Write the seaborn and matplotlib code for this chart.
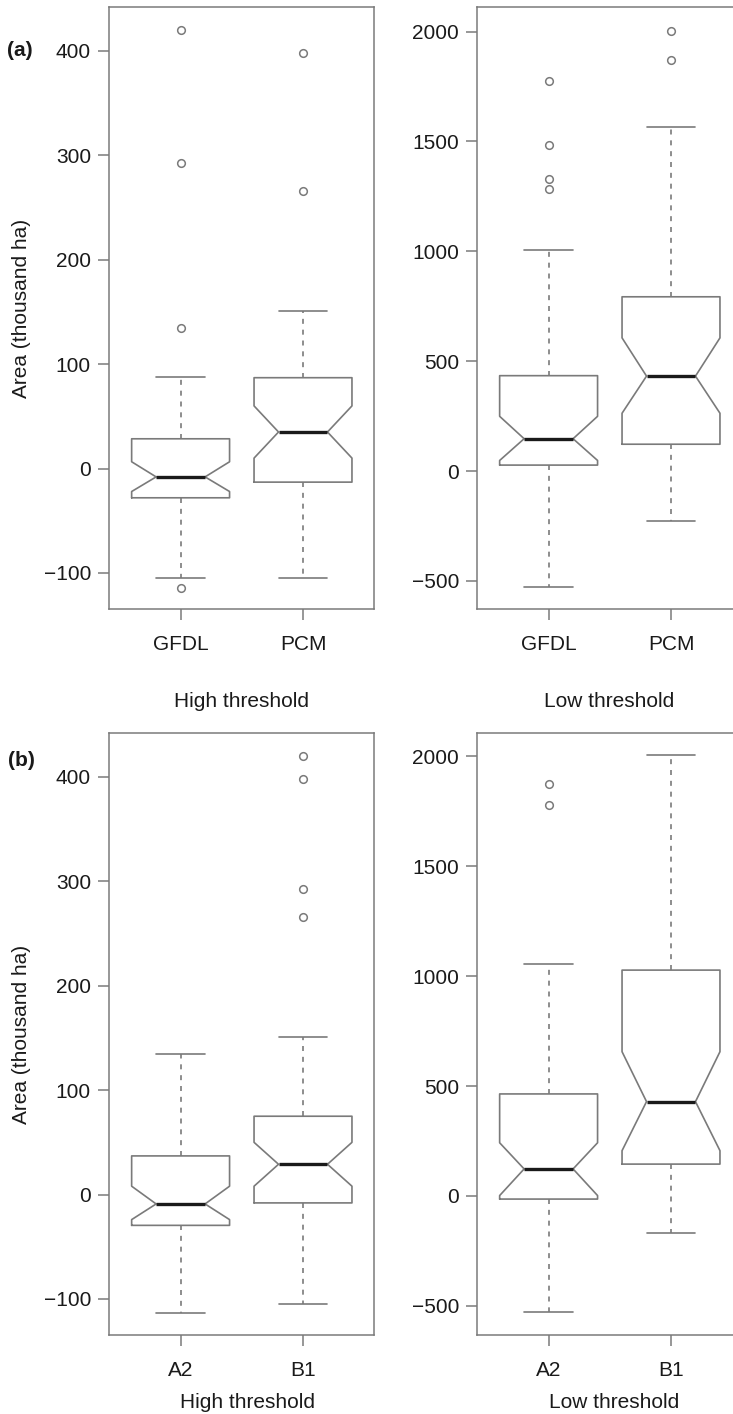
import numpy as np
import pandas as pd
import matplotlib
matplotlib.use("Agg")
import matplotlib.pyplot as plt
import seaborn as sns

# ---------------- data ----------------
models = ["GFDL", "PCM"]
scenarios = ["A2", "B1"]

# (a) high threshold, by model
a_high_lo = [-105, -105]
a_high_q1 = [-28, -13]
a_high_cilo = [-22, 10]
a_high_med = [-8, 35]
a_high_cihi = [6.5, 60]
a_high_q3 = [28.5, 87]
a_high_hi = [88, 151]
a_high_fliers = [[-114, 135, 293, 420], [266, 398]]

# (a) low threshold, by model
a_low_lo = [-528, -226]
a_low_q1 = [27, 122]
a_low_cilo = [48, 263]
a_low_med = [147, 432]
a_low_cihi = [249, 606]
a_low_q3 = [434, 793]
a_low_hi = [1005, 1565]
a_low_fliers = [[1285, 1331, 1482, 1777], [1872, 2005]]

# (b) high threshold, by scenario
b_high_lo = [-113, -105]
b_high_q1 = [-29.5, -8]
b_high_cilo = [-24, 8]
b_high_med = [-9, 29]
b_high_cihi = [8, 50]
b_high_q3 = [37, 75]
b_high_hi = [135, 151]
b_high_fliers = [[], [266, 293, 398, 420]]

# (b) low threshold, by scenario
b_low_lo = [-528, -170]
b_low_q1 = [-14, 145]
b_low_cilo = [2, 206]
b_low_med = [123, 429]
b_low_cihi = [242, 656]
b_low_q3 = [464, 1027]
b_low_hi = [1055, 2005]
b_low_fliers = [[1777, 1872], []]

yticks_high = [-100, 0, 100, 200, 300, 400]
yticks_low = [-500, 0, 500, 1000, 1500, 2000]

# ---------------- styling ----------------
sns.set_theme(style="white")
plt.rcParams["font.family"] = ["Liberation Sans", "DejaVu Sans"]
plt.rcParams["axes.unicode_minus"] = True

W, H = 733, 1414
fig = plt.figure(figsize=(W / 100, H / 100), dpi=100)
fig.patch.set_facecolor("white")

GREY = "#7a7a7a"
DARK = "#1a1a1a"
FS = 15


def px(x0, y0, x1, y1):
    return [x0 / W, 1 - y1 / H, (x1 - x0) / W, (y1 - y0) / H]


def make_stats(lo, q1, cilo, med, cihi, q3, hi, fliers, labels):
    out = []
    for i in range(len(med)):
        out.append(dict(label=labels[i], whislo=lo[i], q1=q1[i], cilo=cilo[i],
                        med=med[i], cihi=cihi[i], q3=q3[i], whishi=hi[i],
                        mean=med[i], fliers=np.array(fliers[i], dtype=float)))
    return out


def panel(rect, cats, stats, ylim, yticks):
    ax = fig.add_axes(rect)
    df = pd.DataFrame({"group": cats, "value": [s["med"] for s in stats]})
    sns.boxplot(
        data=df, x="group", y="value", order=cats, ax=ax,
        width=0.8, fill=False, linecolor=GREY, linewidth=1.2,
        notch=True, bxpstats=stats,
        boxprops=dict(color=GREY, linewidth=1.2),
        medianprops=dict(color=DARK, linewidth=2.4, solid_capstyle="butt"),
        whiskerprops=dict(color=GREY, linewidth=1.2, linestyle=(0, (3, 3.5))),
        capprops=dict(color=GREY, linewidth=1.2),
        flierprops=dict(marker="o", markerfacecolor="none", markeredgecolor=GREY,
                        markersize=5.5, markeredgewidth=1.1),
    )
    ax.set_xlim(-0.585, 1.58)
    ax.set_ylim(*ylim)
    ax.set_yticks(yticks)
    ax.set_xlabel("")
    ax.set_ylabel("")
    for sp in ax.spines.values():
        sp.set_visible(True)
        sp.set_color(GREY)
        sp.set_linewidth(1.1)
    ax.tick_params(axis="both", which="major", length=8, width=1.1, color=GREY,
                   labelsize=FS, labelcolor=DARK, left=True, bottom=True)
    ax.tick_params(axis="y", pad=5)
    ax.tick_params(axis="x", pad=11)
    ax.grid(False)
    return ax


# (a) top row
panel(px(109, 7, 374, 609), models,
      make_stats(a_high_lo, a_high_q1, a_high_cilo, a_high_med, a_high_cihi,
                 a_high_q3, a_high_hi, a_high_fliers, models),
      (-134.5, 442), yticks_high)
panel(px(477, 7, 742, 609), models,
      make_stats(a_low_lo, a_low_q1, a_low_cilo, a_low_med, a_low_cihi,
                 a_low_q3, a_low_hi, a_low_fliers, models),
      (-628, 2112), yticks_low)

# (b) bottom row
panel(px(109, 733, 374, 1335), scenarios,
      make_stats(b_high_lo, b_high_q1, b_high_cilo, b_high_med, b_high_cihi,
                 b_high_q3, b_high_hi, b_high_fliers, scenarios),
      (-134.5, 442), yticks_high)
panel(px(477, 733, 742, 1335), scenarios,
      make_stats(b_low_lo, b_low_q1, b_low_cilo, b_low_med, b_low_cihi,
                 b_low_q3, b_low_hi, b_low_fliers, scenarios),
      (-632, 2105), yticks_low)

# texts
def ftext(x, y, s, **kw):
    fig.text(x / W, 1 - y / H, s, fontsize=FS, color=DARK, **kw)

ftext(7, 51, "(a)", weight="bold", ha="left", va="center")
ftext(8, 760, "(b)", weight="bold", ha="left", va="center")
ftext(22, 308, "Area (thousand ha)", rotation=90, ha="center", va="center")
ftext(22, 1034, "Area (thousand ha)", rotation=90, ha="center", va="center")
ftext(242, 707, "High threshold", ha="center", va="baseline")
ftext(609, 707, "Low threshold", ha="center", va="baseline")
ftext(247, 1408, "High threshold", ha="center", va="baseline")
ftext(614, 1408, "Low threshold", ha="center", va="baseline")

fig.savefig("out.png", dpi=100, facecolor="white")
